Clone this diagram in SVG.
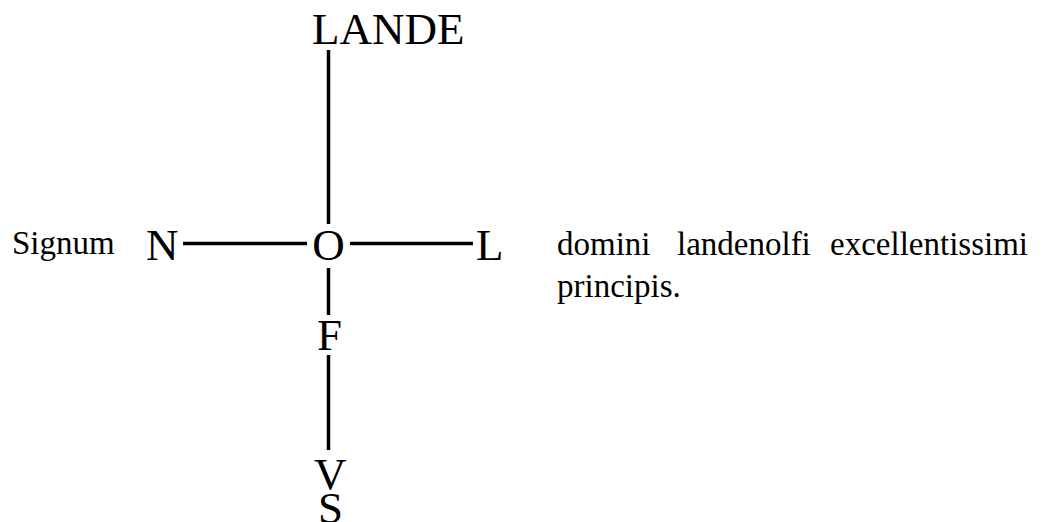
<svg xmlns="http://www.w3.org/2000/svg" width="1055" height="522" viewBox="0 0 1055 522">
  <style>
    text { font-family: 'Liberation Serif', 'Times New Roman', Times, serif; fill: #000; }
    .big { font-size: 45px; }
    .small { font-size: 33px; }
    .bar { stroke: #000; stroke-width: 3.5; fill: none; }
  </style>
  <rect width="1055" height="522" fill="#fff"/>

  <!-- connecting strokes of the monogram -->
  <g id="connectors">
    <line class="bar" x1="328.5" y1="50" x2="328.5" y2="224"/>
    <line class="bar" x1="183" y1="243.5" x2="307" y2="243.5"/>
    <line class="bar" x1="350" y1="243.5" x2="473" y2="243.5"/>
    <line class="bar" x1="328.5" y1="268" x2="328.5" y2="315"/>
    <line class="bar" x1="328.5" y1="355" x2="328.5" y2="450"/>
  </g>

  <g id="lande"><text class="big" font-family="Liberation Serif" x="312" y="44">LANDE</text></g>
  <g id="n"><text class="big" font-family="Liberation Serif" x="146" y="260">N</text></g>
  <g id="o"><text class="big" font-family="Liberation Serif" x="328.5" y="260" text-anchor="middle">O</text></g>
  <g id="l"><text class="big" font-family="Liberation Serif" x="476" y="260">L</text></g>
  <g id="f"><text class="big" font-family="Liberation Serif" x="317" y="350">F</text></g>
  <g id="v"><text class="big" font-family="Liberation Serif" x="314" y="489">V</text></g>
  <g id="s"><text class="big" font-family="Liberation Serif" x="318" y="523">S</text></g>

  <g id="signum"><text class="small" font-family="Liberation Serif" x="12" y="254">Signum</text></g>
  <g id="legend">
    <text class="small" font-family="Liberation Serif" x="557" y="255">domini</text>
    <text class="small" font-family="Liberation Serif" x="677" y="255">landenolfi</text>
    <text class="small" font-family="Liberation Serif" x="1028" y="255" text-anchor="end">excellentissimi</text>
    <text class="small" font-family="Liberation Serif" x="557" y="297">principis.</text>
  </g>
</svg>
